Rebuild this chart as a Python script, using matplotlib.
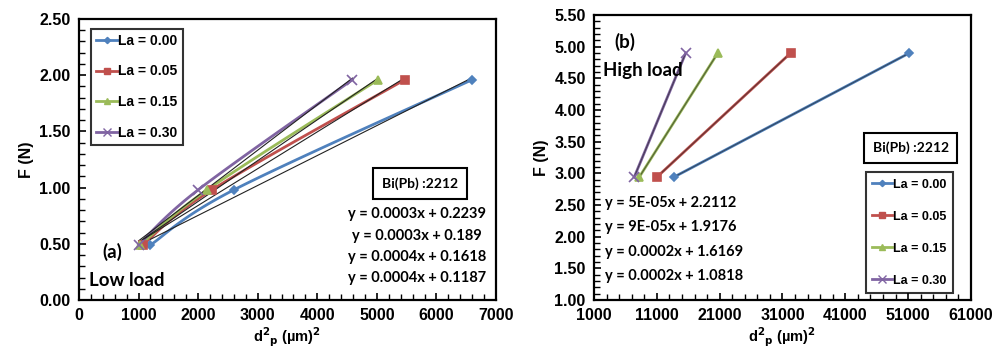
import numpy as np
import matplotlib.pyplot as plt
from matplotlib.lines import Line2D

# Данные: панель (a) низкая нагрузка
load_low = [0.49, 0.98, 1.96]
d2_low = {
    'La = 0.00': [1200, 2600, 6600],
    'La = 0.05': [1070, 2230, 5470],
    'La = 0.15': [1030, 2150, 5020],
    'La = 0.30': [1000, 2000, 4590],
}
eq_low = ['y = 0.0003x + 0.2239', 'y = 0.0003x + 0.189',
          'y = 0.0004x + 0.1618', 'y = 0.0004x + 0.1187']

# Данные: панель (b) высокая нагрузка
load_high = [2.94, 4.90]
d2_high = {
    'La = 0.00': [13700, 51200],
    'La = 0.05': [11000, 32300],
    'La = 0.15': [8200, 20700],
    'La = 0.30': [7400, 15600],
}
eq_high = ['y = 5E-05x + 2.2112', 'y = 9E-05x + 1.9176',
           'y = 0.0002x + 1.6169', 'y = 0.0002x + 1.0818']

colors = ['#4F81BD', '#C0504D', '#9BBB59', '#8064A2']
markers = ['D', 's', '^', 'x']
msizes = [4, 6, 6, 7]

BOLD = 'Liberation Sans'
CAL = 'Lato'


# Сглаженная линия как в Excel (кривые Безье)
def smooth_curve(xs, ys, n=40):
    p = np.column_stack([xs, ys]).astype(float)
    out = []
    for i in range(len(p) - 1):
        p0 = p[i - 1] if i > 0 else p[i]
        p3 = p[i + 2] if i + 2 < len(p) else p[i + 1]
        c1 = p[i] + (p[i + 1] - p0) / 6
        c2 = p[i + 1] - (p3 - p[i]) / 6
        t = np.linspace(0, 1, n)[:, None]
        seg = ((1 - t) ** 3) * p[i] + 3 * ((1 - t) ** 2) * t * c1 + 3 * (1 - t) * t ** 2 * c2 + t ** 3 * p[i + 1]
        out.append(seg)
    seg = np.vstack(out)
    return seg[:, 0], seg[:, 1]


def style_axes(ax, xmaj, xmin, ymaj, ymin):
    for s in ax.spines.values():
        s.set_linewidth(1.6)
    ax.set_xticks(xmaj)
    ax.set_xticks(xmin, minor=True)
    ax.set_yticks(ymaj)
    ax.set_yticks(ymin, minor=True)
    ax.yaxis.set_major_formatter(plt.FormatStrFormatter('%.2f'))
    ax.tick_params(which='both', direction='in', top=False, right=False)
    ax.tick_params(which='major', length=5, width=1.2, labelsize=11.5, pad=6)
    ax.tick_params(which='minor', length=4, width=1.0)
    for lab in ax.get_xticklabels() + ax.get_yticklabels():
        lab.set_fontweight('bold')
        lab.set_fontfamily(BOLD)
    ax.set_ylabel('F (N)', fontsize=11.5, fontweight='bold', family=BOLD)
    ax.set_xlabel(r'd$^\mathbf{2}$$_\mathbf{p}$ (µm)$^\mathbf{2}$', fontsize=10.5,
                  fontweight='bold', family=BOLD, labelpad=2)


def legend_handles():
    return [Line2D([], [], color=c, marker=m, markersize=ms * 0.8, lw=2, markeredgewidth=1.0)
            for c, m, ms in zip(colors, markers, msizes)]


fig = plt.figure(figsize=(10.03, 3.56), dpi=100)

# Панель (a)
ax1 = fig.add_axes([79 / 1003, 56 / 356, 417 / 1003, 281 / 356])
for (lab, xs), c, m, ms in zip(d2_low.items(), colors, markers, msizes):
    sx, sy = smooth_curve(xs, load_low)
    ax1.plot(sx, sy, color=c, lw=2, zorder=2)
    k, b = np.polyfit(xs, load_low, 1)
    ax1.plot([xs[0], xs[-1]], [k * xs[0] + b, k * xs[-1] + b], color='#222222', lw=0.8, zorder=3)
    ax1.plot(xs, load_low, ls='none', marker=m, color=c, markersize=ms, markeredgewidth=1.2, zorder=4)
ax1.set_xlim(0, 7000)
ax1.set_ylim(0, 2.5)
style_axes(ax1, np.arange(0, 7001, 1000), np.arange(0, 7001, 200),
           np.arange(0, 2.51, 0.5), np.arange(0, 2.51, 0.1))
leg1 = ax1.legend(legend_handles(), list(d2_low.keys()), loc='upper left',
                  bbox_to_anchor=(0.028, 0.965), frameon=True, fancybox=False,
                  edgecolor='black', labelspacing=1.2, handlelength=1.6,
                  handletextpad=0.05, borderpad=0.35, borderaxespad=0,
                  prop={'family': BOLD, 'weight': 'bold', 'size': 10})
leg1.get_frame().set_linewidth(1.5)
ax1.text(0.818, 0.415, 'Bi(Pb) :2212', transform=ax1.transAxes, ha='center', va='center',
         fontsize=10, family=CAL, fontweight='bold',
         bbox=dict(boxstyle='square,pad=0.65', fc='white', ec='black', lw=1.5))
for i, eq in enumerate(eq_low):
    ax1.text(0.81, 0.305 - i * 0.076, eq, transform=ax1.transAxes, ha='center', va='center',
             fontsize=10.5, family=CAL, fontweight='bold')
ax1.text(0.055, 0.15, '(a)', transform=ax1.transAxes, fontsize=13.5, family=CAL, fontweight='bold')
ax1.text(0.025, 0.05, 'Low load', transform=ax1.transAxes, fontsize=13.5, family=CAL, fontweight='bold')

# Панель (b)
ax2 = fig.add_axes([594 / 1003, 56 / 356, 377 / 1003, 285 / 356])
for (lab, xs), c, m, ms in zip(d2_high.items(), colors, markers, msizes):
    ax2.plot(xs, load_high, color=c, lw=2, zorder=2)
    ax2.plot(xs, load_high, color='#222222', lw=0.8, alpha=0.6, zorder=3)
    ax2.plot(xs, load_high, ls='none', marker=m, color=c, markersize=ms, markeredgewidth=1.2, zorder=4)
ax2.set_xlim(1000, 61000)
ax2.set_ylim(1.0, 5.5)
style_axes(ax2, np.arange(1000, 61001, 10000), np.arange(1000, 61001, 2000),
           np.arange(1.0, 5.51, 0.5), np.arange(1.0, 5.51, 0.1))
leg2 = ax2.legend(legend_handles(), list(d2_high.keys()), loc='lower left',
                  bbox_to_anchor=(0.722, 0.025), frameon=True, fancybox=False,
                  edgecolor='black', labelspacing=1.6, handlelength=1.6,
                  handletextpad=0.05, borderpad=0.5, borderaxespad=0,
                  prop={'family': BOLD, 'weight': 'bold', 'size': 9})
leg2.get_frame().set_linewidth(1.5)
ax2.text(0.84, 0.533, 'Bi(Pb) :2212', transform=ax2.transAxes, ha='center', va='center',
         fontsize=10, family=CAL, fontweight='bold',
         bbox=dict(boxstyle='square,pad=0.6', fc='white', ec='black', lw=1.5))
for i, eq in enumerate(eq_high):
    ax2.text(0.03, 0.34 - i * 0.085, eq, transform=ax2.transAxes, ha='left', va='center',
             fontsize=10.5, family=CAL, fontweight='bold')
ax2.text(0.055, 0.885, '(b)', transform=ax2.transAxes, fontsize=13.5, family=CAL, fontweight='bold')
ax2.text(0.025, 0.785, 'High load', transform=ax2.transAxes, fontsize=13.5, family=CAL, fontweight='bold')

fig.savefig('out.png', dpi=100)
